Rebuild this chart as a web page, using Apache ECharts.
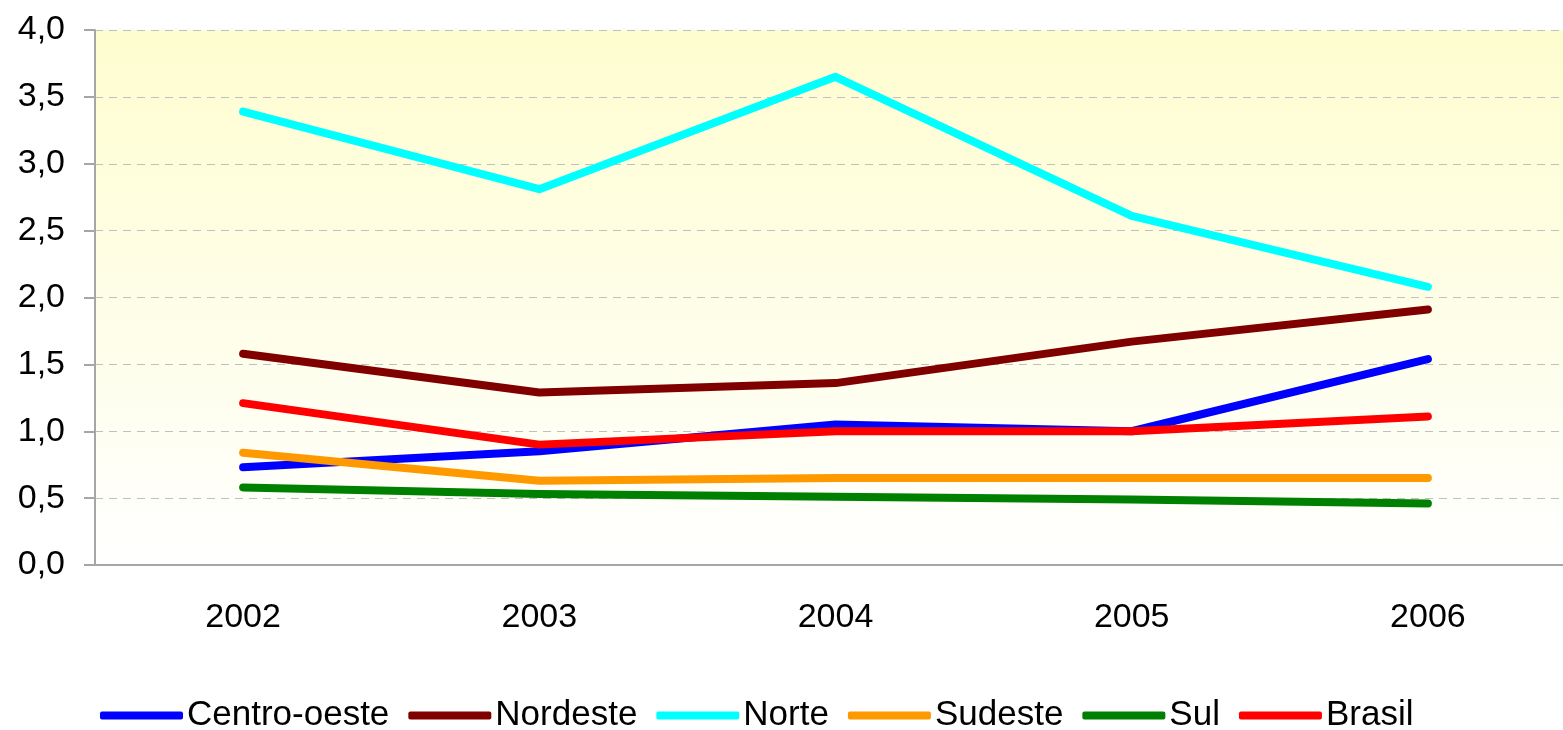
<!DOCTYPE html>
<html lang="pt">
<head>
<meta charset="UTF-8">
<title>Regiões</title>
<script src="https://cdn.jsdelivr.net/npm/echarts@6/dist/echarts.min.js"></script>
<style>
  body { margin: 0; background: #fff; }
  #main { width: 1563px; height: 730px; }
</style>
</head>
<body>
<div id="main"></div>
<script>
var anos = ['2002', '2003', '2004', '2005', '2006'];
var centroOeste = [0.73, 0.85, 1.05, 1.00, 1.54];
var nordeste = [1.58, 1.29, 1.36, 1.67, 1.91];
var norte = [3.39, 2.81, 3.65, 2.61, 2.08];
var sudeste = [0.84, 0.63, 0.65, 0.65, 0.65];
var sul = [0.58, 0.53, 0.51, 0.49, 0.46];
var brasil = [1.21, 0.90, 1.00, 1.00, 1.11];

var chart = echarts.init(document.getElementById('main'));

function linha(nome, dados, cor) {
    return {
        name: nome,
        type: 'line',
        data: dados,
        symbol: 'none',
        lineStyle: { width: 8, color: cor, cap: 'round', join: 'round' },
        itemStyle: { color: cor },
        animation: false
    };
}

chart.setOption({
    grid: {
        left: 95, top: 30, width: 1481, height: 535,
        outerBoundsMode: 'none',
        show: true, borderWidth: 0,
        backgroundColor: new echarts.graphic.LinearGradient(0, 0, 0, 1, [
            { offset: 0, color: '#fefdcf' },
            { offset: 1, color: '#ffffff' }
        ])
    },
    legend: {
        left: 100, top: 698, padding: 0,
        icon: 'roundRect',
        itemWidth: 83, itemHeight: 8, itemGap: 19,
        textStyle: { fontFamily: 'Liberation Sans', fontSize: 35, color: '#000', padding: [0, 0, 0, -1] },
        data: ['Centro-oeste', 'Nordeste', 'Norte', 'Sudeste', 'Sul', 'Brasil']
    },
    xAxis: {
        type: 'category',
        data: anos,
        boundaryGap: true,
        axisLine: { lineStyle: { color: '#a6a6a6', width: 2 } },
        axisTick: { length: 11, lineStyle: { color: '#a6a6a6', width: 2 } },
        axisLabel: { fontFamily: 'Liberation Sans', fontSize: 34, color: '#000', margin: 36 }
    },
    yAxis: {
        type: 'value',
        min: 0, max: 4, interval: 0.5,
        axisLine: { show: true, lineStyle: { color: '#a6a6a6', width: 2 } },
        axisTick: { show: true, length: 11, lineStyle: { color: '#a6a6a6', width: 2 } },
        axisLabel: {
            fontFamily: 'Liberation Sans', fontSize: 34, color: '#000', margin: 30,
            formatter: function (v) { return v.toFixed(1).replace('.', ','); }
        },
        splitLine: { show: true, lineStyle: { color: '#c0c0c0', type: [8, 6], width: 1 } }
    },
    series: [
        linha('Centro-oeste', centroOeste, '#0000ff'),
        linha('Nordeste', nordeste, '#800000'),
        linha('Norte', norte, '#00ffff'),
        linha('Sudeste', sudeste, '#ff9900'),
        linha('Sul', sul, '#008000'),
        linha('Brasil', brasil, '#ff0000')
    ]
});
</script>
</body>
</html>
